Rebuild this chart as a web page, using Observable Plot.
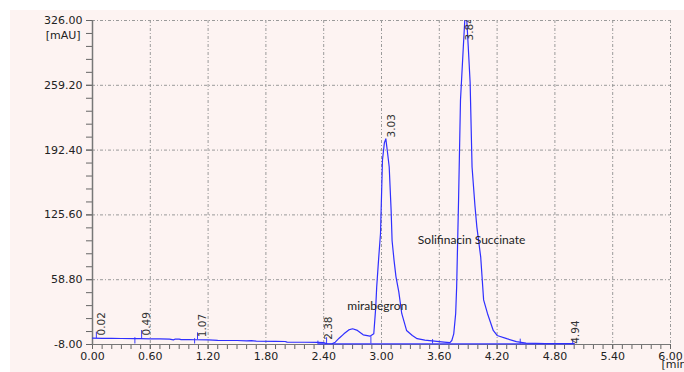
<!DOCTYPE html>
<html><head><meta charset="utf-8">
<script src="https://cdn.jsdelivr.net/npm/d3@7"></script>
<script src="https://cdn.jsdelivr.net/npm/@observablehq/plot@0.6"></script>
<style>
html,body{margin:0;padding:0;background:#fff;}
#wrap{position:relative;width:684px;height:372px;overflow:hidden;}
#bg{position:absolute;left:10px;top:10px;right:0;bottom:0;background:#fdf3f2;}
#chart{position:absolute;left:0;top:0;}
</style></head><body>
<div id="wrap"><div id="bg"></div><div id="chart"></div></div>
<script>
// Chromatogram trace (time in min, absorbance in mAU)
const time = [0.00,0.10,0.20,0.30,0.44,0.50,0.60,0.70,0.80,0.84,0.86,0.90,0.92,1.00,1.07,1.20,1.30,1.50,1.60,1.65,1.70,1.90,2.00,2.02,2.20,2.34,2.40,2.44,2.48,2.52,2.56,2.61,2.66,2.70,2.75,2.81,2.88,2.92,2.94,2.95,2.97,2.99,3.01,3.03,3.045,3.06,3.08,3.10,3.11,3.13,3.15,3.18,3.21,3.26,3.32,3.37,3.45,3.55,3.65,3.71,3.73,3.75,3.77,3.78,3.80,3.82,3.85,3.875,3.90,3.92,3.94,3.97,3.99,4.03,4.06,4.10,4.16,4.20,4.30,4.40,4.50,4.70,5.00];
const absorbance = [-1.5,-1.6,-1.7,-1.8,-1.9,-2.0,-2.1,-2.2,-2.5,-3.2,-2.4,-2.4,-3.0,-3.0,-3.1,-3.2,-3.8,-3.9,-4.2,-4.0,-4.6,-4.8,-4.9,-5.6,-5.7,-5.8,-6.0,-7.6,-7.5,-5.6,-1.5,3.0,7.0,8.2,6.5,2.0,0.6,3.0,30,51,80,107,182,200,204,192,175,130,99,79,62,46,24,6.5,1.3,-2,-3.5,-4.5,-5.5,-6.0,-3.9,3,24,51,141,244,300,345,300,262,175,135,113,82,38,24,6.5,1.3,-2,-5,-6.5,-7.0,-7.2];

// Integration baseline
const baseT = [2.34, 5.00];
const baseV = [-7.3, -7.3];

// Integration event markers
const markT  = [0.04, 0.44, 0.51, 1.06, 1.09, 2.34, 2.43, 2.89, 3.53, 4.44, 4.985];
const markY1 = [-1.8, -7.5, -1.8, -7.5, -3.0, -7.5, -7.5, -7.5, -7.5, -7.5, -7.5];
const markY2 = [4.7, -1.0, 6.4, -2.0, 4.0, -4.5, -1.0, 0.0, -3.0, -2.5, -3.3];

// Retention time labels
const peakLabel = ["0.02","0.49","1.07","2.38","3.03","3.84","4.94"];
const peakT     = [0.02, 0.49, 1.07, 2.38, 3.03, 3.84, 4.94];
const peakY     = [1.3, 1.3, -0.5, -3.2, 205.4, 305.4, -7.3];

// Compound annotations
const annotText = ["mirabegron", "Solifinacin Succinate"];
const annotT    = [2.956, 3.935];
const annotY    = [31.6, 99.4];

// Axis ticks
const xTicks = [0.00, 0.60, 1.20, 1.80, 2.40, 3.00, 3.60, 4.20, 4.80, 5.40, 6.00];
const yTicks = [-8.00, 58.80, 125.60, 192.40, 259.20, 326.00];
const xMinor = d3.range(0, 61).map(i => i / 10);
const yMinor = d3.range(0, 26).map(i => -8 + i * 13.36);

const gridStyle = {stroke: "#9a9a9a", strokeOpacity: 1, strokeDasharray: "3,2,1,2", strokeWidth: 1};

const chart = Plot.plot({
  width: 684, height: 372,
  marginLeft: 92, marginRight: 14, marginTop: 20, marginBottom: 28,
  style: {background: "transparent", fontFamily: "DejaVu Sans", fontSize: "11px", color: "#222", overflow: "visible"},
  x: {domain: [0, 6]},
  y: {domain: [-8, 326]},
  marks: [
    Plot.gridX(xTicks, gridStyle),
    Plot.gridY(yTicks, gridStyle),
    Plot.axisX(xMinor, {tickSize: 5, tickFormat: () => "", stroke: "#666", label: null}),
    Plot.axisX(xTicks, {tickSize: 5, tickPadding: 3, tickFormat: d => d.toFixed(2), stroke: "#666", fill: "#222", fontSize: 11, label: null}),
    Plot.axisY(yMinor, {tickSize: 6, tickFormat: () => "", stroke: "#666", label: null}),
    Plot.axisY(yTicks, {tickSize: 6, tickPadding: 4, tickFormat: d => d.toFixed(2), stroke: "#666", fill: "#222", fontSize: 11, label: null}),
    Plot.ruleX([0], {stroke: "#777", strokeWidth: 1.5}),
    Plot.ruleY([-8], {stroke: "#777", strokeWidth: 1}),
    Plot.text(["[mAU]"], {frameAnchor: "top-left", dx: -12, dy: 11, textAnchor: "end", fill: "#222", fontSize: 11}),
    Plot.text(["[min]"], {frameAnchor: "bottom-right", dx: -9, dy: 23, textAnchor: "start", fill: "#222", fontSize: 11}),
    Plot.line(baseT, {x: baseT, y: baseV, stroke: "#3a3aff", strokeWidth: 1.2}),
    Plot.ruleX(markT, {x: markT, y1: markY1, y2: markY2, stroke: "#3a3aff", strokeWidth: 1}),
    Plot.line(time, {x: time, y: absorbance, stroke: "#2f2fff", strokeWidth: 1.2, clip: true}),
    Plot.text(peakLabel, {x: peakT, y: peakY, text: d => d, rotate: -90, textAnchor: "start", lineAnchor: "middle", dx: 7, fill: "#333", fontSize: 10.5, clip: true}),
    Plot.text(annotText, {x: annotT, y: annotY, text: d => d, fontFamily: "Lato", fontSize: 12, fill: "#222"})
  ]
});
document.getElementById("chart").appendChild(chart);
</script>
</body></html>
